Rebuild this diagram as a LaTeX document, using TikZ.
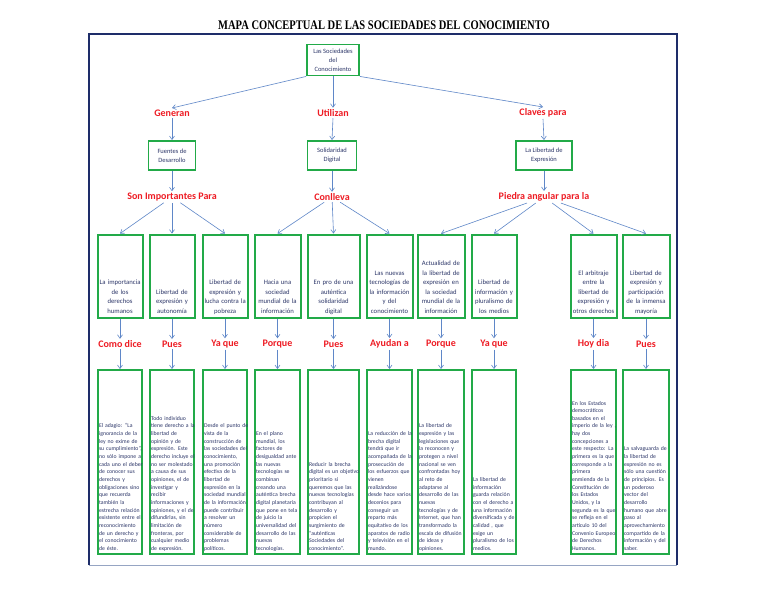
\documentclass[tikz,border=0pt]{standalone}
\usepackage{fontspec}
\usepackage{graphicx}
\setmainfont{Carlito}
\newfontfamily\titlefont{Liberation Serif}
\usetikzlibrary{arrows.meta}

\definecolor{framenavy}{RGB}{30,45,105}
\definecolor{framelight}{RGB}{150,165,195}
\definecolor{boxgreen}{RGB}{34,170,72}
\definecolor{tagred}{RGB}{238,28,36}
\definecolor{linkblue}{RGB}{95,135,200}
\definecolor{inkblue}{RGB}{45,55,105}

% text kept at the bottom of a box of fixed height
\newcommand{\lowmid}[2]{\parbox[c][#1][b]{\linewidth}{\centering\begin{tabular}[b]{@{}c@{}}#2\end{tabular}}}
\newcommand{\lowleft}[2]{\parbox[c][#1][b]{\linewidth}{\begin{tabular}[b]{@{}l@{}}#2\end{tabular}}}

\begin{document}
\begin{tikzpicture}[x=1pt, y=-1pt, >={Straight Barb[length=3.5pt,width=5pt]},
  link/.style={->, draw=linkblue, line width=0.6pt},
  tag/.style={text=tagred, font=\fontsize{10}{11}\selectfont\bfseries, inner sep=1.5pt},
  topbox/.style={draw=boxgreen, line width=1.9pt, text=inkblue, align=center,
    font=\fontsize{6.5}{9}\selectfont, inner sep=1pt},
  idea/.style={draw=boxgreen, line width=2pt, text=inkblue, inner sep=2pt,
    font=\fontsize{6.7}{9.6}\selectfont},
  nota/.style={draw=boxgreen, line width=2pt, text=inkblue, inner sep=1.3pt,
    font=\fontsize{5.75}{7.65}\selectfont}]

\useasboundingbox (0,0) rectangle (768,594);
\fill[white] (0,0) rectangle (768,594);

% frame and title
\draw[framelight, line width=1pt] (89,565) -- (677,565);
\draw[framenavy, line width=1.4pt] (89,565) -- (89,34) -- (677,34) -- (677,565);
\node[font=\titlefont\bfseries\fontsize{10.5}{12}\selectfont] (title) at (384,25.5)
  {\scalebox{1}[1.25]{MAPA CONCEPTUAL DE LAS SOCIEDADES DEL CONOCIMIENTO}};

% centre and first level
\node[topbox, minimum width=52pt, minimum height=31pt] (soc) at (333,60)
  {Las Sociedades\\del\\Conocimiento};

\node[tag] (gen) at (172,113) {Generan};
\node[tag] (uti) at (333,113) {Utilizan};
\node[tag] (cla) at (543,113) {Claves para};

\node[topbox, minimum width=47pt, minimum height=29pt] (fue) at (172,155.5) {Fuentes de\\Desarrollo};
\node[topbox, minimum width=49pt, minimum height=29pt] (sol) at (332,155.5) {Solidaridad\\Digital};
\node[topbox, minimum width=56pt, minimum height=29pt] (lib) at (544,155.5) {La Libertad de\\Expresión};

\node[tag] (son) at (172,197) {Son Importantes Para};
\node[tag] (con) at (332,197) {Conlleva};
\node[tag] (pie) at (544,197) {Piedra angular para la};

\draw[link] (soc.south west) -- (gen.north);
\draw[link] (soc.south) -- (uti.north);
\draw[link] (soc.south east) -- (cla.north);
\foreach \a/\b/\c in {gen/fue/son, uti/sol/con, cla/lib/pie} {
  \draw[link] (\a.south) -- (\b.north);
  \draw[link] (\b.south) -- (\c.north);
}

% second level
\node[idea, text width=41pt] (idea1) at (120,276.5) {\lowmid{77pt}{La importancia\\de los\\derechos\\humanos}};
\node[idea, text width=41pt] (idea2) at (172,276.5) {\lowmid{77pt}{Libertad de\\expresión y\\autonomía}};
\node[idea, text width=41pt] (idea3) at (225,276.5) {\lowmid{77pt}{Libertad de\\expresión y\\lucha contra la\\pobreza}};
\node[idea, text width=42pt] (idea4) at (277.5,276.5) {\lowmid{77pt}{Hacia una\\sociedad\\mundial de la\\información}};
\node[idea, text width=48pt] (idea5) at (333.5,276.5) {\lowmid{77pt}{En pro de una\\auténtica\\solidaridad\\digital}};
\node[idea, text width=42pt] (idea6) at (389.5,276.5) {\lowmid{77pt}{Las nuevas\\tecnologías de\\la información\\y del\\conocimiento}};
\node[idea, text width=43pt] (idea7) at (441,276.5) {\lowmid{77pt}{Actualidad de\\la libertad de\\expresión en\\la sociedad\\mundial de la\\información}};
\node[idea, text width=41pt] (idea8) at (494,276.5) {\lowmid{77pt}{Libertad de\\información y\\pluralismo de\\los medios}};
\node[idea, text width=42pt] (idea9) at (593.5,276.5) {\lowmid{77pt}{El arbitraje\\entre la\\libertad de\\expresión y\\otros derechos}};
\node[idea, text width=43pt] (idea10) at (646,276.5) {\lowmid{77pt}{Libertad de\\expresión y\\participación\\de la inmensa\\mayoría}};

\foreach \a/\b in {son/1, son/2, son/3, con/4, con/5, con/6, pie/7, pie/8, pie/9, pie/10}
  \draw[link] (\a) -- (idea\b.north);

% links of the third level
\node[tag] (nexo1) at (120,344) {Como dice};
\node[tag] (nexo2) at (172,344) {Pues};
\node[tag] (nexo3) at (225,344) {Ya que};
\node[tag] (nexo4) at (277.5,344) {Porque};
\node[tag] (nexo5) at (333.5,344) {Pues};
\node[tag] (nexo6) at (389.5,344) {Ayudan a};
\node[tag] (nexo7) at (441,344) {Porque};
\node[tag] (nexo8) at (494,344) {Ya que};
\node[tag] (nexo9) at (593.5,344) {Hoy dia};
\node[tag] (nexo10) at (646,344) {Pues};

% notes
\node[nota, text width=42pt] (nota1) at (120,462) {\lowleft{179pt}{El adagio: “La\\ignorancia de la\\ley no exime de\\su cumplimiento”,\\no sólo impone a\\cada uno el deber\\de conocer sus\\derechos y\\obligaciones sino\\que recuerda\\también la\\estrecha relación\\existente entre el\\reconocimiento\\de un derecho y\\el conocimiento\\de éste.}};
\node[nota, text width=42pt] (nota2) at (172,462) {\lowleft{179pt}{Todo individuo\\tiene derecho a la\\libertad de\\opinión y de\\expresión. Este\\derecho incluye el\\no ser molestado\\a causa de sus\\opiniones, el de\\investigar y\\recibir\\informaciones y\\opiniones, y el de\\difundirlas, sin\\limitación de\\fronteras, por\\cualquier medio\\de expresión.}};
\node[nota, text width=42pt] (nota3) at (225,462) {\lowleft{179pt}{Desde el punto de\\vista de la\\construcción de\\las sociedades del\\conocimiento,\\una promoción\\efectiva de la\\libertad de\\expresión en la\\sociedad mundial\\de la información\\puede contribuir\\a resolver un\\número\\considerable de\\problemas\\políticos.}};
\node[nota, text width=43pt] (nota4) at (277.5,462) {\lowleft{179pt}{En el plano\\mundial, los\\factores de\\desigualdad ante\\las nuevas\\tecnologías se\\combinan\\creando una\\auténtica brecha\\digital planetaria\\que pone en tela\\de juicio la\\universalidad del\\desarrollo de las\\nuevas\\tecnologías.}};
\node[nota, text width=49pt] (nota5) at (333.5,462) {\lowleft{179pt}{Reducir la brecha\\digital es un objetivo\\prioritario si\\queremos que las\\nuevas tecnologías\\contribuyan al\\desarrollo y\\propicien el\\surgimiento de\\“auténticas\\Sociedades del\\conocimiento”.}};
\node[nota, text width=43pt] (nota6) at (389.5,462) {\lowleft{179pt}{La reducción de la\\brecha digital\\tendrá que ir\\acompañada de la\\prosecución de\\los esfuerzos que\\vienen\\realizándose\\desde hace varios\\decenios para\\conseguir un\\reparto más\\equitativo de los\\aparatos de radio\\y televisión en el\\mundo.}};
\node[nota, text width=44pt] (nota7) at (441,462) {\lowleft{179pt}{La libertad de\\expresión y las\\legislaciones que\\la reconocen y\\protegen a nivel\\nacional se ven\\confrontadas hoy\\al reto de\\adaptarse al\\desarrollo de las\\nuevas\\tecnologías y de\\Internet, que han\\transformado la\\escala de difusión\\de ideas y\\opiniones.}};
\node[nota, text width=42pt] (nota8) at (494,462) {\lowleft{179pt}{La libertad de\\información\\guarda relación\\con el derecho a\\una información\\diversificada y de\\calidad , que\\exige un\\pluralismo de los\\medios.}};
\node[nota, text width=43pt] (nota9) at (593.5,462) {\lowleft{179pt}{En los Estados\\democráticos\\basados en el\\imperio de la ley ,\\hay dos\\concepciones a\\este respecto: La\\primera es la que\\corresponde a la\\primera\\enmienda de la\\Constitución de\\los Estados\\Unidos, y la\\segunda es la que\\se refleja en el\\artículo 10 del\\Convenio Europeo\\de Derechos\\Humanos.}};
\node[nota, text width=44pt] (nota10) at (646,462) {\lowleft{179pt}{La salvaguarda de\\la libertad de\\expresión no es\\sólo una cuestión\\de principios. Es\\un poderoso\\vector del\\desarrollo\\humano que abre\\paso al\\aprovechamiento\\compartido de la\\información y del\\saber.}};

\foreach \i in {1,...,10} {
  \draw[link] (idea\i.south) -- (nexo\i.north);
  \draw[link] (nexo\i.south) -- (nota\i.north);
}
\end{tikzpicture}
\end{document}
